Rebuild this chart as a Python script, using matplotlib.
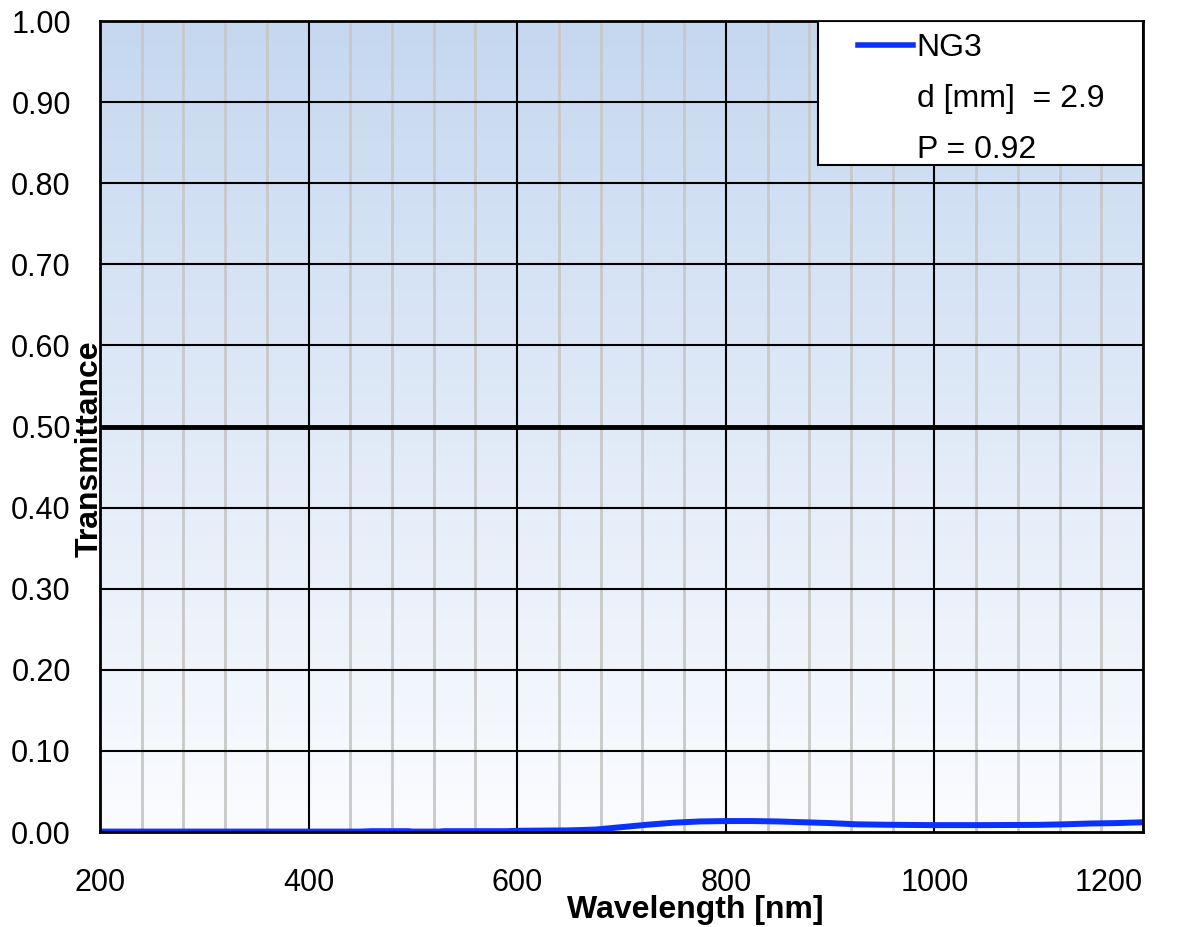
import numpy as np
import matplotlib
matplotlib.use("Agg")
from matplotlib import pyplot as plt
from matplotlib.lines import Line2D
from matplotlib.patches import Rectangle
from matplotlib.colors import LinearSegmentedColormap

plt.rcParams['font.family'] = ['Liberation Sans', 'DejaVu Sans']

# data
wavelength = [200, 300, 400, 450, 460, 495, 500, 525, 530, 590, 600, 650, 675, 700,
              725, 750, 775, 800, 825, 850, 875, 900, 925, 950, 975, 1000, 1050,
              1100, 1125, 1150, 1175, 1200]
transmittance = [0.0005, 0.0005, 0.0005, 0.0005, 0.001, 0.001, 0.0005, 0.0005, 0.001,
                 0.001, 0.0015, 0.002, 0.003, 0.006, 0.009, 0.0115, 0.013, 0.0135,
                 0.0135, 0.013, 0.012, 0.011, 0.0095, 0.009, 0.0087, 0.0085, 0.0085,
                 0.0088, 0.0095, 0.0105, 0.011, 0.012]
series_name = "NG3"
legend_extra = ["d [mm]  = 2.9", "P = 0.92"]
xticks = [200, 400, 600, 800, 1000, 1200]
yticks = [0.0, 0.1, 0.2, 0.3, 0.4, 0.5, 0.6, 0.7, 0.8, 0.9, 1.0]

W, H = 1187, 927
fig = plt.figure(figsize=(W/100, H/100), dpi=100)
ax = fig.add_axes([100/W, 1-832/H, 1043/W, 811/H])

# gradient background
grad = np.linspace(0, 1, 256).reshape(-1, 1)
cmap = LinearSegmentedColormap.from_list("bg", ["#fbfcff", "#c5d8f0"])
ax.imshow(grad, extent=[200, 1200, 0, 1], origin="lower", aspect="auto", cmap=cmap, zorder=0)

# grid lines
for x in range(240, 1200, 40):
    if x % 200 != 0:
        ax.axvline(x, color="#c8c8c8", lw=2, zorder=1)
for x in xticks[1:-1]:
    ax.axvline(x, color="black", lw=1.5, zorder=2)
for y in yticks[1:-1]:
    ax.axhline(y, color="black", lw=3.5 if abs(y-0.5) < 1e-9 else 1.5, zorder=2)

ax.plot(wavelength, transmittance, color="#0a32ff", lw=4.3, zorder=3)

ax.set_xlim(200, 1200)
ax.set_ylim(0, 1)
ax.set_xticks(xticks)
ax.set_yticks(yticks)
ax.set_yticklabels(["%.2f" % y for y in yticks])
ax.tick_params(length=0, labelsize=22)
ax.tick_params(axis="y", pad=21)
ax.tick_params(axis="x", pad=26)
ax.get_xticklabels()[-1].set_horizontalalignment("right")
for s in ax.spines.values():
    s.set_linewidth(2)
    s.set_zorder(4)

fig.text(695/W, 1-918/H, "Wavelength [nm]", ha="center", va="baseline",
         fontsize=23, fontweight="bold")
fig.text(90/W, 1-449/H, "Transmittance", ha="center", va="center",
         rotation=90, fontsize=23, fontweight="bold")

# legend box
ax.add_patch(Rectangle((818/W, 1-165/H), 325/W, 144/H, transform=fig.transFigure,
                       facecolor="white", edgecolor="black", lw=1.5, zorder=5))
handles = [Line2D([], [], color="#0a32ff", lw=4)] + \
          [Line2D([], [], color="none") for _ in legend_extra]
leg = ax.legend(handles, [series_name] + legend_extra, loc="upper left",
                bbox_to_anchor=(858/W, 1-33/H), bbox_transform=fig.transFigure,
                fontsize=23, frameon=False, handlelength=1.72, handletextpad=0.12,
                borderaxespad=0, labelspacing=0.65, borderpad=0)
leg.set_zorder(6)

fig.savefig("out.png", dpi=100)
